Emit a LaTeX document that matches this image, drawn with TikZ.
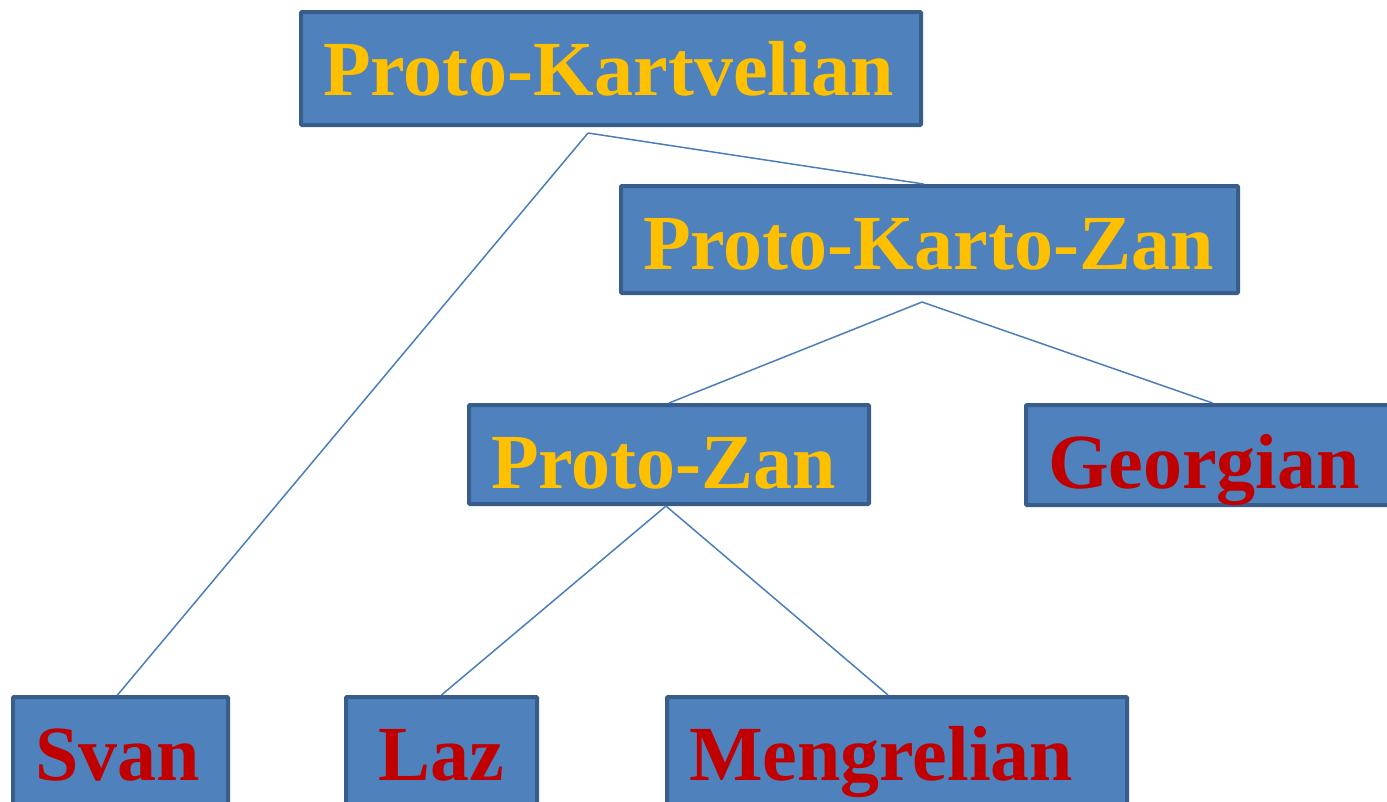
\documentclass[tikz,border=0pt]{standalone}
\usepackage{fontspec}
\setmainfont{Liberation Serif}
\usepackage{tikz}
\definecolor{boxfill}{HTML}{4F81BD}
\definecolor{boxedge}{HTML}{385D8A}
\definecolor{linkblue}{HTML}{4A7EBB}
\definecolor{protogold}{HTML}{FFC000}
\definecolor{langred}{HTML}{C00000}
\hyphenpenalty=10000
\exhyphenpenalty=10000
\tikzset{
  BaseNode/.style = {rectangle, anchor=north west, fill=boxfill, draw=boxedge, line width=4pt, rounded corners=1pt, inner xsep=22pt, inner ysep=10pt, text height=73pt, align=left, font=\fontsize{78}{90}\selectfont\bfseries},
  ProtoNode/.style = {BaseNode, text=protogold},
  LangNode/.style = {BaseNode, text=langred},
  Link/.style = {draw=linkblue, line width=1.5pt},
}

\begin{document}
\begin{tikzpicture}[x=1pt,y=-1pt]
    \useasboundingbox (0,0) rectangle (1387,801);
    % ancestors
    \node [ProtoNode, text width=576pt, text depth=20pt] (pk) at (299,10) {Proto-Kartvelian};
    \node [ProtoNode, text width=573pt, text depth=14pt] (pkz) at (619,184) {Proto-Karto-Zan};
    \node [ProtoNode, text width=356pt, text depth=6pt] (pz) at (467,403) {Proto-Zan};
    % daughter languages
    \node [LangNode, text width=329pt, text depth=7pt] (geo) at (1024,403) {Georgian};
    \node [LangNode, text width=171pt, text depth=22pt] (svan) at (11,695) {Svan};
    \node [LangNode, text width=147pt, text depth=22pt, align=center] (laz) at (344,695) {Laz};
    \node [LangNode, text width=416pt, text depth=22pt] (meng) at (665,695) {Mengrelian};
    \coordinate (pkfoot) at (588,133);
    \coordinate (pkzfoot) at (922,302);
    % branches
    \draw [Link] (pkfoot) -- ([xshift=-3pt]svan.north);
    \draw [Link] (pkfoot) -- ([xshift=-6pt]pkz.north);
    \draw [Link] (pkzfoot) -- (pz.north);
    \draw [Link] (pkzfoot) -- (geo.north);
    \draw [Link] ([xshift=-3pt]pz.south) -- (laz.north);
    \draw [Link] ([xshift=-3pt]pz.south) -- ([xshift=-9pt]meng.north);
\end{tikzpicture}
\end{document}
